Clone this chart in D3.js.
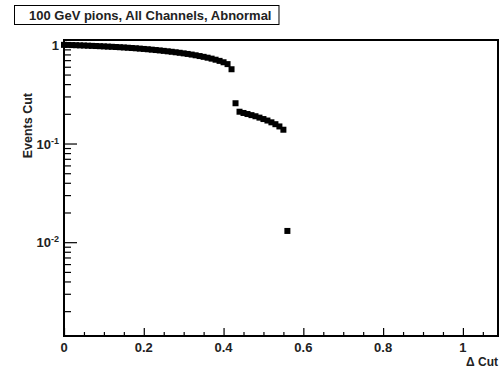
<!DOCTYPE html>
<html>
<head>
<meta charset="utf-8">
<script src="https://cdn.jsdelivr.net/npm/d3@7"></script>
<style>
  body { margin: 0; background: #fff; }
  svg { display: block; }
  text { font-family: 'Liberation Sans', Arial, sans-serif; font-weight: bold; fill: #222; }
</style>
</head>
<body>
<svg id="chart" width="502" height="375"></svg>
<script>
const title = '100 GeV pions, All Channels, Abnormal';
const xTitle = '\u0394 Cut';
const yTitle = 'Events Cut';

// delta cut values and fraction of events surviving
const cutsA = [0.00, 0.01, 0.02, 0.03, 0.04, 0.05, 0.06, 0.07, 0.08, 0.09,
  0.10, 0.11, 0.12, 0.13, 0.14, 0.15, 0.16, 0.17, 0.18, 0.19,
  0.20, 0.21, 0.22, 0.23, 0.24, 0.25, 0.26, 0.27, 0.28, 0.29,
  0.30, 0.31, 0.32, 0.33, 0.34, 0.35, 0.36, 0.37, 0.38, 0.39,
  0.40, 0.41, 0.42];
const eventsA = [1.000, 0.998, 0.995, 0.992, 0.988, 0.985, 0.981, 0.977, 0.973, 0.969,
  0.965, 0.960, 0.956, 0.951, 0.946, 0.941, 0.935, 0.929, 0.923, 0.916,
  0.909, 0.902, 0.894, 0.886, 0.878, 0.869, 0.860, 0.851, 0.841, 0.831,
  0.820, 0.809, 0.797, 0.784, 0.770, 0.756, 0.741, 0.725, 0.707, 0.688,
  0.666, 0.638, 0.566];
const cutsB = [0.43, 0.44, 0.45, 0.46, 0.47, 0.48, 0.49, 0.50, 0.51, 0.52, 0.53, 0.54, 0.55, 0.56];
const eventsB = [0.256, 0.210, 0.204, 0.199, 0.194, 0.189, 0.183, 0.177, 0.171, 0.164, 0.157, 0.149, 0.138, 0.0130];

const xMajor = [0, 0.2, 0.4, 0.6, 0.8, 1];
const xLabels = ['0', '0.2', '0.4', '0.6', '0.8', '1'];
const yMajor = [1, 0.1, 0.01];
const yLabels = [['1', ''], ['10', '-1'], ['10', '-2']];

const margin = { top: 40, right: 4, bottom: 39, left: 64 };
const width = 502 - margin.left - margin.right;
const height = 375 - margin.top - margin.bottom;

const svg = d3.select('#chart');

const x = d3.scaleLinear().domain([0, 1.088]).range([0, width]);
const y = d3.scaleLog().domain([0.00112, 1.12]).range([height, 0]);

// title box
const tb = svg.append('g');
const tt = tb.append('text')
  .attr('x', 29)
  .attr('y', 19.5)
  .style('font-size', '13px')
  .text(title);
const tw = tt.node().getComputedTextLength();
tb.insert('rect', 'text')
  .attr('x', 14.5).attr('y', 5.5)
  .attr('width', tw + 22).attr('height', 19)
  .attr('fill', '#fff').attr('stroke', '#000').attr('stroke-width', 1);

const g = svg.append('g').attr('transform', `translate(${margin.left},${margin.top})`);

// minor ticks
const xMinor = d3.range(0.05, 1.088, 0.05).filter((v) => xMajor.every((m) => Math.abs(m - v) > 1e-6));
const yMinor = [];
[0.001, 0.01, 0.1].forEach((d) => { for (let k = 2; k <= 9; k++) yMinor.push(d * k); });
const yMinorIn = yMinor.filter((v) => v >= 0.00112 && v <= 1.12);

g.append('g')
  .attr('transform', `translate(0,${height})`)
  .call(d3.axisBottom(x).tickValues(xMinor).tickSizeInner(-4).tickSizeOuter(0).tickFormat(''))
  .call((a) => a.select('.domain').remove());
g.append('g')
  .attr('transform', `translate(0,${height})`)
  .call(d3.axisBottom(x).tickValues(xMajor).tickSizeInner(-8).tickSizeOuter(0).tickFormat(''))
  .call((a) => a.select('.domain').remove());
g.append('g')
  .call(d3.axisLeft(y).tickValues(yMinorIn).tickSizeInner(-7).tickSizeOuter(0).tickFormat(''))
  .call((a) => a.select('.domain').remove());
g.append('g')
  .call(d3.axisLeft(y).tickValues(yMajor).tickSizeInner(-13).tickSizeOuter(0).tickFormat(''))
  .call((a) => a.select('.domain').remove());
g.selectAll('.tick line').attr('stroke', '#000').attr('stroke-width', 1.2);

// tick labels
g.selectAll('.xlab')
  .data(xMajor)
  .enter().append('text')
  .attr('class', 'xlab')
  .attr('x', (d) => x(d))
  .attr('y', height + 16)
  .attr('text-anchor', 'middle')
  .style('font-size', '13px')
  .text((d, i) => xLabels[i]);

const yl = g.selectAll('.ylab')
  .data(yMajor)
  .enter().append('text')
  .attr('class', 'ylab')
  .attr('x', -5)
  .attr('y', (d) => y(d) + 5)
  .attr('text-anchor', 'end')
  .style('font-size', '13px');
yl.append('tspan').text((d, i) => yLabels[i][0]);
yl.append('tspan')
  .attr('dy', -5)
  .style('font-size', '9px')
  .text((d, i) => yLabels[i][1]);

// axis titles
g.append('text')
  .attr('x', width)
  .attr('y', height + 30)
  .attr('text-anchor', 'end')
  .style('font-size', '12px')
  .text(xTitle);
g.append('text')
  .attr('transform', 'rotate(-90)')
  .attr('x', -53)
  .attr('y', -32)
  .attr('text-anchor', 'end')
  .style('font-size', '12.5px')
  .text(yTitle);

// markers
const pts = cutsA.map((c, i) => ({ x: c, y: eventsA[i] }))
  .concat(cutsB.map((c, i) => ({ x: c, y: eventsB[i] })));
const ms = 6;
g.selectAll('.pt')
  .data(pts)
  .enter().append('rect')
  .attr('class', 'pt')
  .attr('x', (d) => x(d.x) - ms / 2)
  .attr('y', (d) => y(d.y) - ms / 2)
  .attr('width', ms)
  .attr('height', ms)
  .attr('fill', '#000');

// frame
g.append('rect')
  .attr('width', width)
  .attr('height', height)
  .attr('fill', 'none')
  .attr('stroke', '#000')
  .attr('stroke-width', 2);
</script>
</body>
</html>
